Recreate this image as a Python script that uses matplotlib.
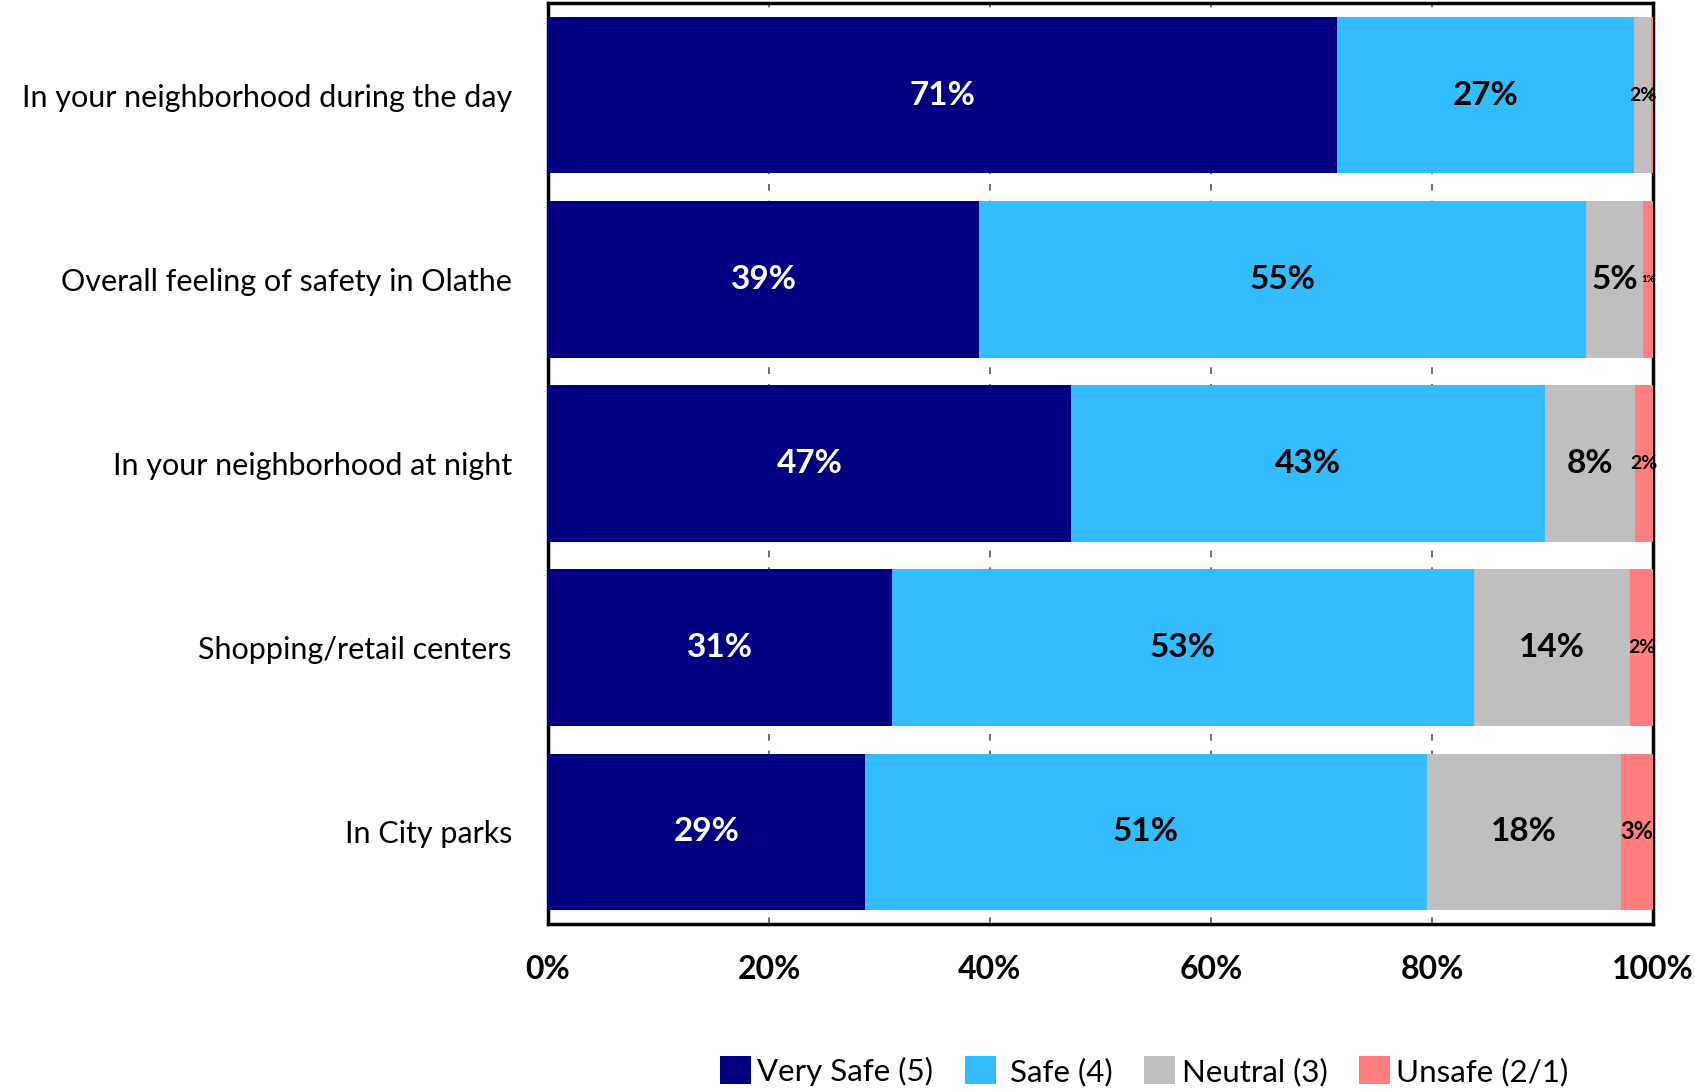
import matplotlib.pyplot as plt
import numpy as np

plt.rcParams['font.family'] = ['Lato', 'DejaVu Sans']

# survey categories, top to bottom
categories = ['In your neighborhood during the day',
              'Overall feeling of safety in Olathe',
              'In your neighborhood at night',
              'Shopping/retail centers',
              'In City parks']

# percent of respondents per rating
very_safe = [71.4, 39.0, 47.3, 31.1, 28.7]
safe = [26.9, 54.9, 42.9, 52.7, 50.8]
neutral = [1.5, 5.2, 8.2, 14.1, 17.6]
unsafe = [0.2, 0.9, 1.6, 2.2, 2.9]

series_names = ['Very Safe (5)', ' Safe (4)', 'Neutral (3)', 'Unsafe (2/1)']
colors = ['#000080', '#33BDFF', '#BFBFBF', '#FF7F7F']
text_colors = ['white', 'black', 'black', 'black']

xticks = [0, 20, 40, 60, 80, 100]

fig = plt.figure(figsize=(16.95, 10.92), dpi=100)
ax = fig.add_axes([0.3233, 0.1538, 0.652, 0.8434])

y = np.arange(len(categories))
left = np.zeros(len(categories))
all_series = [very_safe, safe, neutral, unsafe]
for vals, name, col, tcol in zip(all_series, series_names, colors, text_colors):
    vals = np.array(vals)
    ax.barh(y, vals, left=left, height=0.85, color=col, label=name, zorder=3)
    for yi, (l, v) in enumerate(zip(left, vals)):
        # smaller segments get smaller labels, like the original
        if v >= 4:
            fs = 24
        elif v >= 2.5:
            fs = 17
        elif v >= 1.2:
            fs = 14
        elif v >= 0.5:
            fs = 7
        else:
            fs = 5
        ax.text(l + v / 2, yi, f'{round(v)}%', ha='center', va='center',
                color=tcol, fontsize=fs, fontweight='bold', zorder=4)
    left += vals

ax.set_xlim(0, 100)
ax.set_ylim(len(categories) - 0.5, -0.5)
ax.set_yticks(y)
ax.set_yticklabels(categories, fontsize=22)
ax.set_xticks(xticks)
ax.set_xticklabels([f'{t}%' for t in xticks], fontsize=23, fontweight='bold')
ax.tick_params(axis='both', length=0)
ax.tick_params(axis='x', pad=22)
ax.tick_params(axis='y', pad=26)
ax.xaxis.grid(True, color='#555555', linestyle=(0, (4, 6)), linewidth=1.2, zorder=0)
for s in ax.spines.values():
    s.set_linewidth(2.5)
    s.set_color('black')

ax.legend(loc='center', bbox_to_anchor=(0.675, 0.019), bbox_transform=fig.transFigure,
          ncol=4, frameon=False, fontsize=22.5, handlelength=1.0, handleheight=1.0,
          handletextpad=0.2, columnspacing=1.0)

fig.savefig('out.png', dpi=100)
